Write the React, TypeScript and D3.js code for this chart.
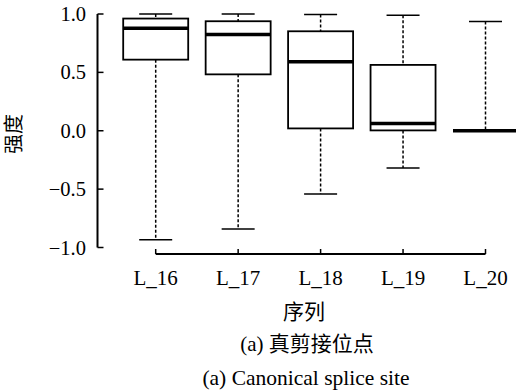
import React from "react";
import * as d3 from "d3";

const categories = ["L_16", "L_17", "L_18", "L_19", "L_20"];
const whiskerHigh = [1.0, 1.0, 0.996, 0.99, 0.936];
const upperQuartile = [0.961, 0.938, 0.852, 0.564, 0.0];
const medians = [0.878, 0.824, 0.592, 0.063, 0.0];
const lowerQuartile = [0.609, 0.483, 0.02, 0.003, 0.0];
const whiskerLow = [-0.933, -0.841, -0.541, -0.32, 0.0];
const yTicks = [-1.0, -0.5, 0.0, 0.5, 1.0];

const W = 516;
const H = 391;
const serif = "'Liberation Serif', 'Times New Roman', 'Noto Sans CJK SC', serif";
const cjk = "'Liberation Serif', 'Noto Sans CJK SC', serif";

export default function App() {
  const x = d3.scalePoint<string>().domain(categories).range([155.7, 485.5]);
  const y = d3.scaleLinear().domain([-1, 1]).range([247.5, 14]);
  const axisX = 97.5;
  const axisY = 254;
  const boxW = 65;
  const capW = 33;
  const fmt = (v: number) => (v < 0 ? "\u2212" : "") + d3.format(".1f")(Math.abs(v));

  return (
    <div style={{ position: "fixed", left: 0, top: 0 }}>
      <svg width={W} height={H} style={{ display: "block", background: "#fff" }}>
        {/* y axis with inward ticks */}
        <line x1={axisX} x2={axisX} y1={y(1)} y2={y(-1)} stroke="#000" strokeWidth={2} />
        {yTicks.map((t) => (
          <g key={t}>
            <line x1={axisX} x2={axisX + 6} y1={y(t)} y2={y(t)} stroke="#000" strokeWidth={1.5} />
            <text
              x={86}
              y={y(t) + 7}
              textAnchor="end"
              fontFamily={serif}
              fontSize={20.5}
              fill="#000"
            >
              {fmt(t)}
            </text>
          </g>
        ))}
        {/* x axis with inward ticks */}
        <line
          x1={x(categories[0])!}
          x2={x(categories[categories.length - 1])!}
          y1={axisY}
          y2={axisY}
          stroke="#000"
          strokeWidth={2}
        />
        {categories.map((c) => (
          <g key={c}>
            <line x1={x(c)!} x2={x(c)!} y1={axisY} y2={axisY - 5} stroke="#000" strokeWidth={1.5} />
            <text x={x(c)!} y={285} textAnchor="middle" fontFamily={serif} fontSize={21} fill="#000">
              {c}
            </text>
          </g>
        ))}
        {/* boxes */}
        {categories.map((c, i) => {
          const cx = x(c)!;
          return (
            <g key={"b" + c}>
              <line
                x1={cx}
                x2={cx}
                y1={y(whiskerHigh[i])}
                y2={y(upperQuartile[i])}
                stroke="#000"
                strokeWidth={1.5}
                strokeDasharray="3,2"
              />
              <line
                x1={cx}
                x2={cx}
                y1={y(lowerQuartile[i])}
                y2={y(whiskerLow[i])}
                stroke="#000"
                strokeWidth={1.5}
                strokeDasharray="3,2"
              />
              <line
                x1={cx - capW / 2}
                x2={cx + capW / 2}
                y1={y(whiskerHigh[i])}
                y2={y(whiskerHigh[i])}
                stroke="#000"
                strokeWidth={1.5}
              />
              <line
                x1={cx - capW / 2}
                x2={cx + capW / 2}
                y1={y(whiskerLow[i])}
                y2={y(whiskerLow[i])}
                stroke="#000"
                strokeWidth={1.5}
              />
              <rect
                x={cx - boxW / 2}
                y={y(upperQuartile[i])}
                width={boxW}
                height={Math.max(0, y(lowerQuartile[i]) - y(upperQuartile[i]))}
                fill="#fff"
                stroke="#000"
                strokeWidth={1.8}
              />
              <line
                x1={cx - boxW / 2}
                x2={cx + boxW / 2}
                y1={y(medians[i])}
                y2={y(medians[i])}
                stroke="#000"
                strokeWidth={3.5}
              />
            </g>
          );
        })}
        {/* axis titles and captions */}
        <text
          transform={`translate(14,134) rotate(-90)`}
          textAnchor="middle"
          dominantBaseline="central"
          fontFamily={cjk}
          fontSize={20}
          fill="#000"
        >
          强度
        </text>
        <text x={304} y={319} textAnchor="middle" fontFamily={cjk} fontSize={21} fill="#000">
          序列
        </text>
        <text x={307} y={351} textAnchor="middle" fontFamily={cjk} fontSize={21} fill="#000">
          (a) 真剪接位点
        </text>
        <text x={306} y={385} textAnchor="middle" fontFamily={serif} fontSize={21.5} fill="#000">
          (a) Canonical splice site
        </text>
      </svg>
    </div>
  );
}
